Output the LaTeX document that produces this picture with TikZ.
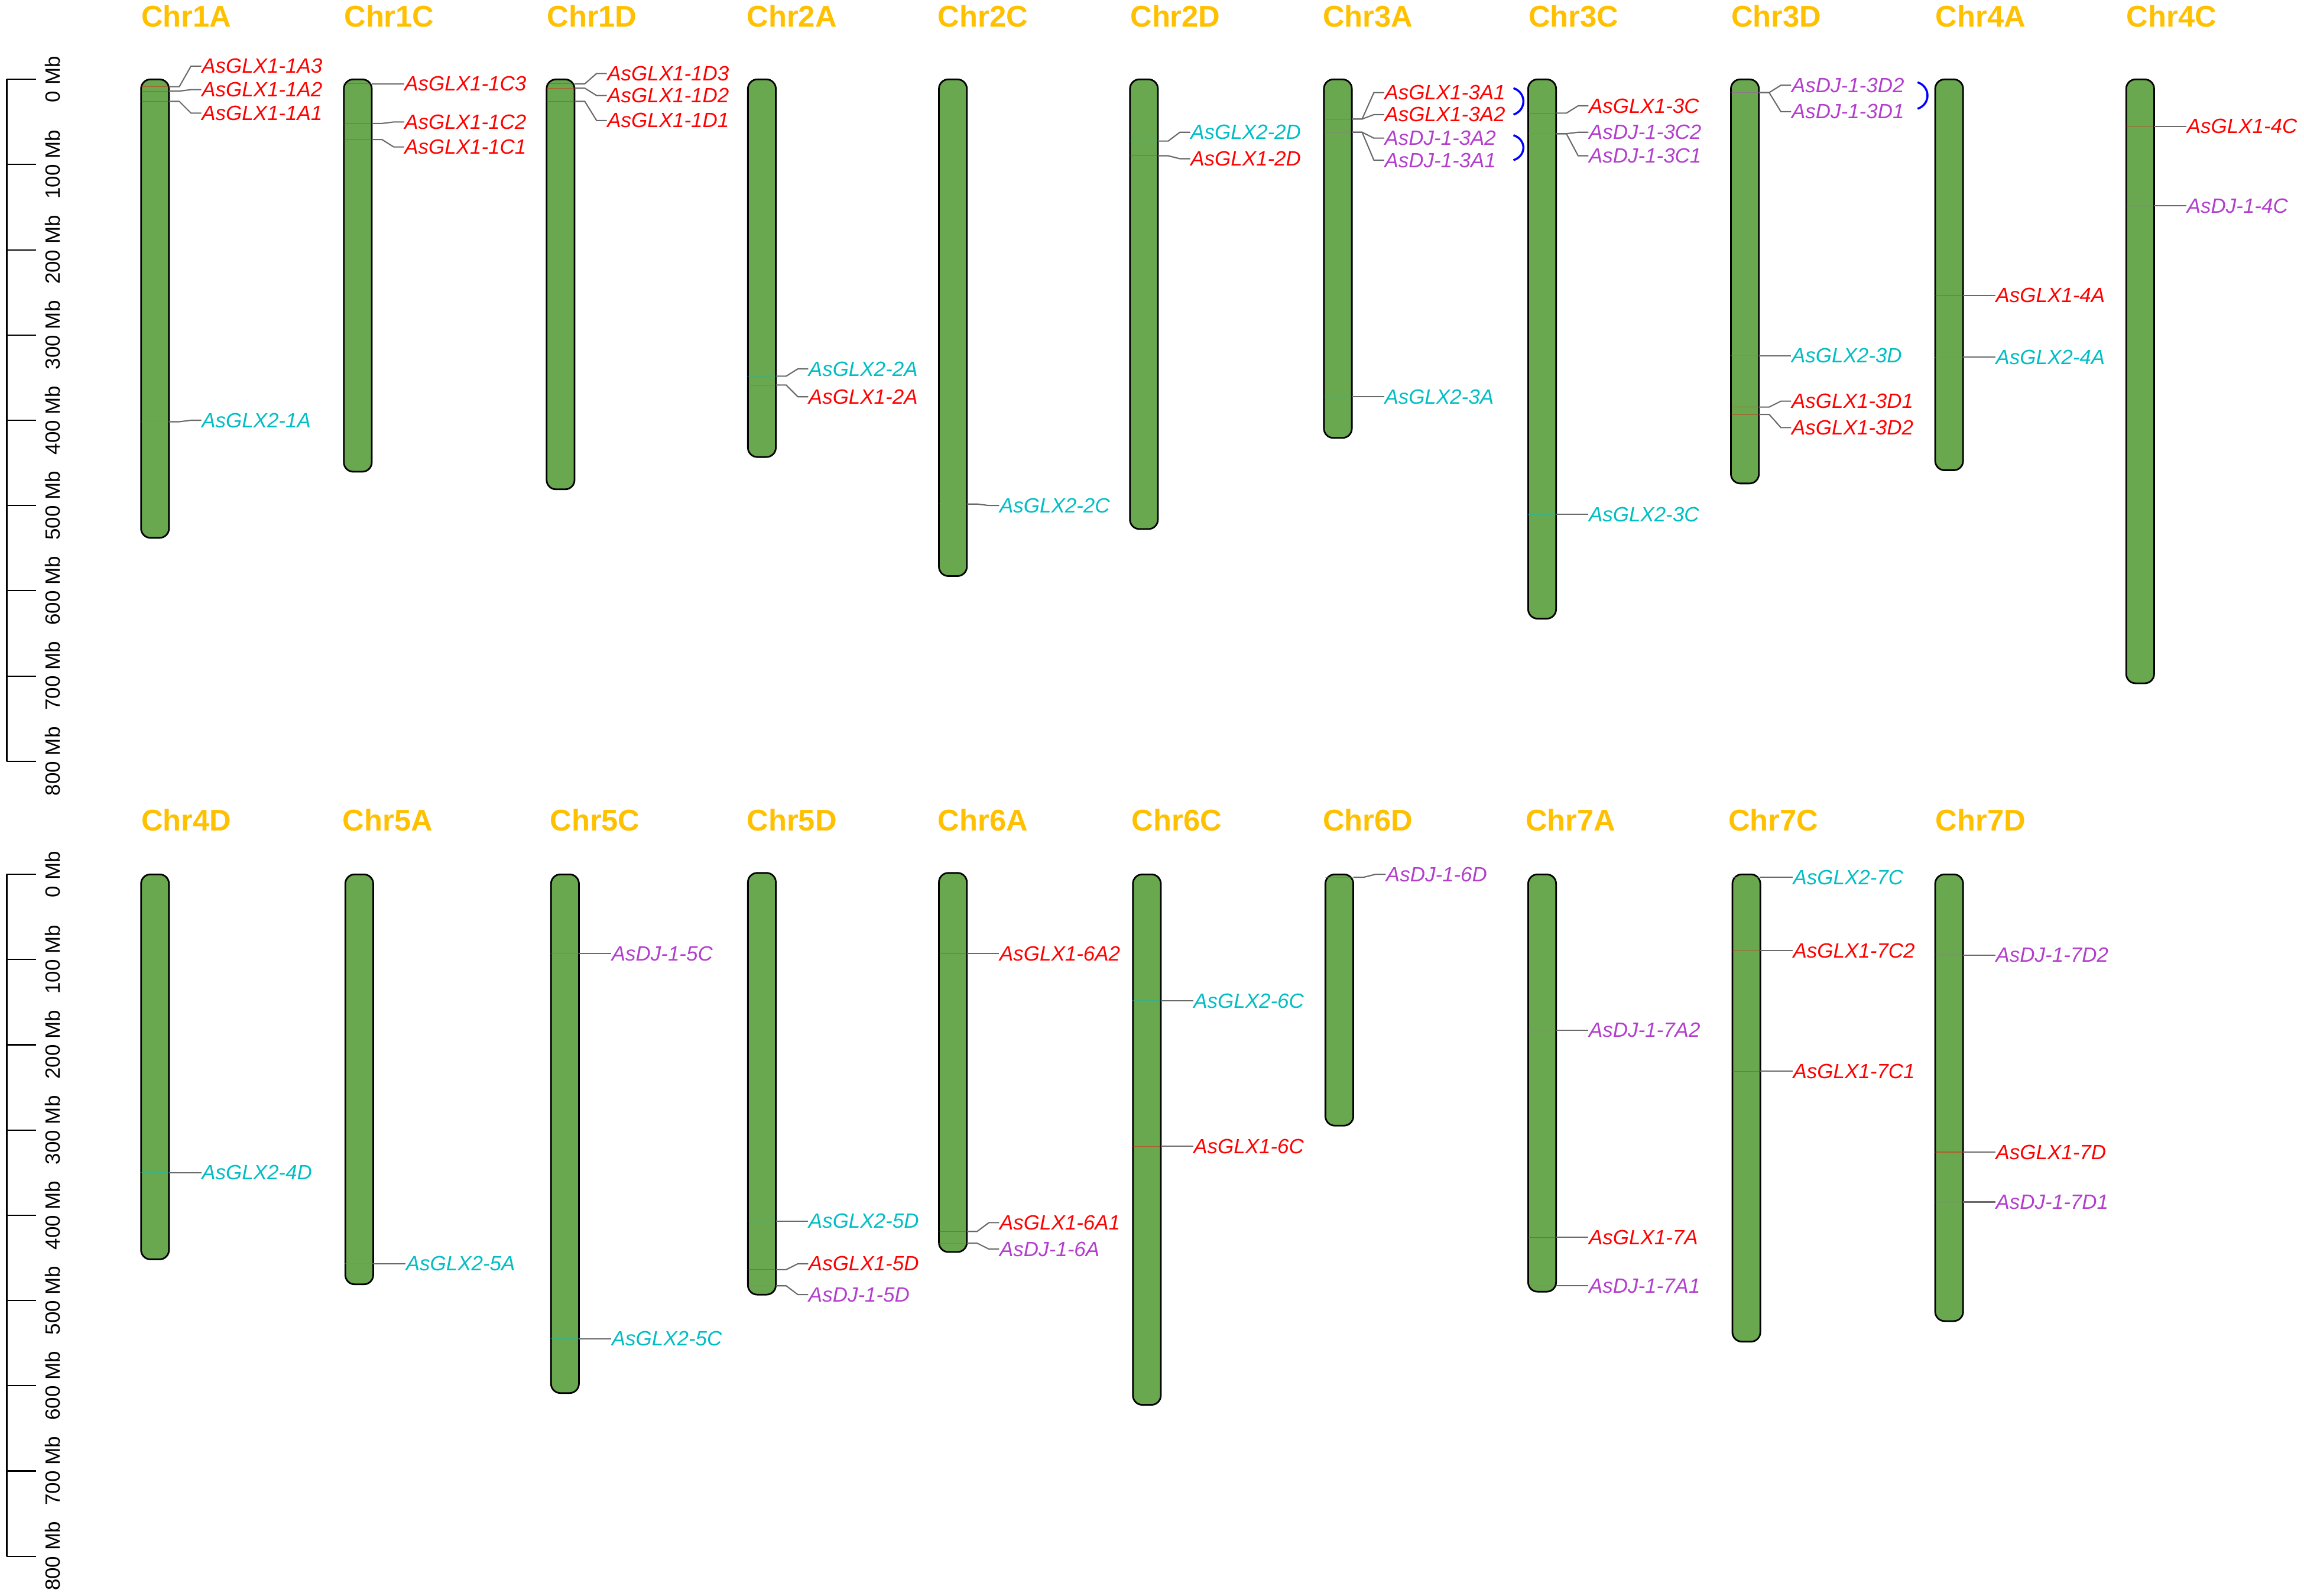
\documentclass[tikz,border=0pt]{standalone}
\usepackage{fontspec}
\setmainfont{Liberation Sans}
\usetikzlibrary{calc}
\definecolor{chromgreen}{RGB}{106,168,79}
\definecolor{chrgold}{RGB}{255,192,0}
\definecolor{glxred}{RGB}{255,0,0}
\definecolor{glxcyan}{RGB}{0,190,196}
\definecolor{djpurple}{RGB}{178,62,204}
\definecolor{linkgray}{RGB}{105,105,105}
\definecolor{dupblue}{RGB}{0,0,255}
\tikzset{chrom/.style={draw=black,fill=chromgreen,line width=0.8pt,rounded corners=0.16cm},
            chrname/.style={anchor=west,inner sep=0pt,text=chrgold,font=\fontsize{14.5}{16}\selectfont\bfseries},
            gene/.style={anchor=west,inner sep=0pt,font=\fontsize{10}{12}\selectfont\itshape},
            glxa/.style={gene,text=glxred},
            glxb/.style={gene,text=glxcyan},
            dj/.style={gene,text=djpurple},
            spot/.style={anchor=east,inner sep=0pt,minimum width=0.475cm,minimum height=0pt,draw=#1,draw opacity=0.45,line width=0.3pt},
            link/.style={draw=linkgray,line width=0.6pt,to path={-- ++(7,0) -- ($(\tikztotarget.west)+(-7,0)$) -- (\tikztotarget.west)}},
            dup/.style={draw=dupblue,line width=1pt},
            ruler/.style={rotate=90,inner sep=0pt,font=\fontsize{10}{12}\selectfont},
            }

\begin{document}
\begin{tikzpicture}[x=0.025cm,y=-0.025cm]
    \useasboundingbox (0,0) rectangle (1568,1086);

    \foreach \yo in {54,595}{
        \draw[line width=0.8pt] (4.5,\yo) -- (4.5,\yo+464);
        \foreach \k [evaluate=\k as \mb using int(100*\k)] in {0,...,8}{
            \draw[line width=0.6pt] (4.5,\yo+58*\k) -- (24.5,\yo+58*\k);
            \node[ruler] (ax\yo-\k) at (36,\yo+58*\k) {\mb\ Mb};
        }
    }

    \draw[chrom] (96,54) rectangle (115,366);
    \draw[chrom] (234,54) rectangle (253,321);
    \draw[chrom] (372,54) rectangle (391,333);
    \draw[chrom] (509,54) rectangle (528,311);
    \draw[chrom] (639,54) rectangle (658,392);
    \draw[chrom] (769,54) rectangle (788,360);
    \draw[chrom] (901,54) rectangle (920,298);
    \draw[chrom] (1040,54) rectangle (1059,421);
    \draw[chrom] (1178,54) rectangle (1197,329);
    \draw[chrom] (1317,54) rectangle (1336,320);
    \draw[chrom] (1447,54) rectangle (1466,465);

    \draw[chrom] (96,595) rectangle (115,857);
    \draw[chrom] (235,595) rectangle (254,874);
    \draw[chrom] (375,595) rectangle (394,948);
    \draw[chrom] (509,594) rectangle (528,881);
    \draw[chrom] (639,594) rectangle (658,852);
    \draw[chrom] (771,595) rectangle (790,956);
    \draw[chrom] (902,595) rectangle (921,766);
    \draw[chrom] (1040,595) rectangle (1059,879);
    \draw[chrom] (1179,595) rectangle (1198,913);
    \draw[chrom] (1317,595) rectangle (1336,899);

    \node[chrname] (t1A) at (96,11) {Chr1A};
    \node[chrname] (t1C) at (234,11) {Chr1C};
    \node[chrname] (t1D) at (372,11) {Chr1D};
    \node[chrname] (t2A) at (508,11) {Chr2A};
    \node[chrname] (t2C) at (638,11) {Chr2C};
    \node[chrname] (t2D) at (769,11) {Chr2D};
    \node[chrname] (t3A) at (900,11) {Chr3A};
    \node[chrname] (t3C) at (1040,11) {Chr3C};
    \node[chrname] (t3D) at (1178,11) {Chr3D};
    \node[chrname] (t4A) at (1317,11) {Chr4A};
    \node[chrname] (t4C) at (1447,11) {Chr4C};

    \node[chrname] (t4D) at (96,558) {Chr4D};
    \node[chrname] (t5A) at (233,558) {Chr5A};
    \node[chrname] (t5C) at (374,558) {Chr5C};
    \node[chrname] (t5D) at (508,558) {Chr5D};
    \node[chrname] (t6A) at (638,558) {Chr6A};
    \node[chrname] (t6C) at (770,558) {Chr6C};
    \node[chrname] (t6D) at (900,558) {Chr6D};
    \node[chrname] (t7A) at (1038,558) {Chr7A};
    \node[chrname] (t7C) at (1176,558) {Chr7C};
    \node[chrname] (t7D) at (1317,558) {Chr7D};

    \node[spot=glxred] (g1A3) at (115,59) {};
    \node[spot=glxred] (g1A2) at (115,62) {};
    \node[spot=glxred] (g1A1) at (115,69) {};
    \node[spot=glxcyan] (g1Ab) at (115,287) {};
    \node[glxa] (n1A3) at (137,45) {AsGLX1-1A3};
    \node[glxa] (n1A2) at (137,61) {AsGLX1-1A2};
    \node[glxa] (n1A1) at (137,77) {AsGLX1-1A1};
    \node[glxb] (n1Ab) at (137,286) {AsGLX2-1A};

    \node[spot=glxred] (g1C3) at (253,57) {};
    \node[spot=glxred] (g1C2) at (253,84) {};
    \node[spot=glxred] (g1C1) at (253,95) {};
    \node[glxa] (n1C3) at (275,57) {AsGLX1-1C3};
    \node[glxa] (n1C2) at (275,83) {AsGLX1-1C2};
    \node[glxa] (n1C1) at (275,100) {AsGLX1-1C1};

    \node[spot=glxred] (g1D3) at (391,57) {};
    \node[spot=glxred] (g1D2) at (391,60) {};
    \node[spot=glxred] (g1D1) at (391,69) {};
    \node[glxa] (n1D3) at (413,50) {AsGLX1-1D3};
    \node[glxa] (n1D2) at (413,65) {AsGLX1-1D2};
    \node[glxa] (n1D1) at (413,82) {AsGLX1-1D1};

    \node[spot=glxcyan] (g2Ab) at (528,256) {};
    \node[spot=glxred] (g2A) at (528,262) {};
    \node[glxb] (n2Ab) at (550,251) {AsGLX2-2A};
    \node[glxa] (n2A) at (550,270) {AsGLX1-2A};

    \node[spot=glxcyan] (g2Cb) at (658,343) {};
    \node[glxb] (n2Cb) at (680,344) {AsGLX2-2C};

    \node[spot=glxcyan] (g2Db) at (788,96) {};
    \node[spot=glxred] (g2D) at (788,106) {};
    \node[glxb] (n2Db) at (810,90) {AsGLX2-2D};
    \node[glxa] (n2D) at (810,108) {AsGLX1-2D};

    \node[spot=glxred] (g3A) at (920,81) {};
    \node[spot=djpurple] (g3Ad) at (920,90) {};
    \node[spot=glxcyan] (g3Ab) at (920,270) {};
    \node[glxa] (n3A1) at (942,63) {AsGLX1-3A1};
    \node[glxa] (n3A2) at (942,78) {AsGLX1-3A2};
    \node[dj] (n3Ad2) at (942,94) {AsDJ-1-3A2};
    \node[dj] (n3Ad1) at (942,109) {AsDJ-1-3A1};
    \node[glxb] (n3Ab) at (942,270) {AsGLX2-3A};

    \node[spot=glxred] (g3C) at (1059,77) {};
    \node[spot=djpurple] (g3Cd) at (1059,91) {};
    \node[spot=glxcyan] (g3Cb) at (1059,350) {};
    \node[glxa] (n3C) at (1081,72) {AsGLX1-3C};
    \node[dj] (n3Cd2) at (1081,90) {AsDJ-1-3C2};
    \node[dj] (n3Cd1) at (1081,106) {AsDJ-1-3C1};
    \node[glxb] (n3Cb) at (1081,350) {AsGLX2-3C};

    \node[spot=djpurple] (g3Dd) at (1197,63) {};
    \node[spot=glxcyan] (g3Db) at (1197,242) {};
    \node[spot=glxred] (g3D1) at (1197,277) {};
    \node[spot=glxred] (g3D2) at (1197,282) {};
    \node[dj] (n3Dd2) at (1219,58) {AsDJ-1-3D2};
    \node[dj] (n3Dd1) at (1219,76) {AsDJ-1-3D1};
    \node[glxb] (n3Db) at (1219,242) {AsGLX2-3D};
    \node[glxa] (n3D1) at (1219,273) {AsGLX1-3D1};
    \node[glxa] (n3D2) at (1219,291) {AsGLX1-3D2};

    \node[spot=glxred] (g4A) at (1336,201) {};
    \node[spot=glxcyan] (g4Ab) at (1336,243) {};
    \node[glxa] (n4A) at (1358,201) {AsGLX1-4A};
    \node[glxb] (n4Ab) at (1358,243) {AsGLX2-4A};

    \node[spot=glxred] (g4C) at (1466,86) {};
    \node[spot=djpurple] (g4Cd) at (1466,140) {};
    \node[glxa] (n4C) at (1488,86) {AsGLX1-4C};
    \node[dj] (n4Cd) at (1488,140) {AsDJ-1-4C};

    \node[spot=glxcyan] (g4Db) at (115,798) {};
    \node[glxb] (n4Db) at (137,798) {AsGLX2-4D};

    \node[spot=glxcyan] (g5Ab) at (254,860) {};
    \node[glxb] (n5Ab) at (276,860) {AsGLX2-5A};

    \node[spot=djpurple] (g5Cd) at (394,649) {};
    \node[spot=glxcyan] (g5Cb) at (394,911) {};
    \node[dj] (n5Cd) at (416,649) {AsDJ-1-5C};
    \node[glxb] (n5Cb) at (416,911) {AsGLX2-5C};

    \node[spot=glxcyan] (g5Db) at (528,831) {};
    \node[spot=glxred] (g5D) at (528,864) {};
    \node[spot=djpurple] (g5Dd) at (528,875) {};
    \node[glxb] (n5Db) at (550,831) {AsGLX2-5D};
    \node[glxa] (n5D) at (550,860) {AsGLX1-5D};
    \node[dj] (n5Dd) at (550,881) {AsDJ-1-5D};

    \node[spot=glxred] (g6A2) at (658,649) {};
    \node[spot=glxred] (g6A1) at (658,838) {};
    \node[spot=djpurple] (g6Ad) at (658,846) {};
    \node[glxa] (n6A2) at (680,649) {AsGLX1-6A2};
    \node[glxa] (n6A1) at (680,832) {AsGLX1-6A1};
    \node[dj] (n6Ad) at (680,850) {AsDJ-1-6A};

    \node[spot=glxcyan] (g6Cb) at (790,681) {};
    \node[spot=glxred] (g6C) at (790,780) {};
    \node[glxb] (n6Cb) at (812,681) {AsGLX2-6C};
    \node[glxa] (n6C) at (812,780) {AsGLX1-6C};

    \node[spot=djpurple] (g6Dd) at (921,597) {};
    \node[dj] (n6Dd) at (943,595) {AsDJ-1-6D};

    \node[spot=djpurple] (g7Ad2) at (1059,701) {};
    \node[spot=glxred] (g7A) at (1059,842) {};
    \node[spot=djpurple] (g7Ad1) at (1059,875) {};
    \node[dj] (n7Ad2) at (1081,701) {AsDJ-1-7A2};
    \node[glxa] (n7A) at (1081,842) {AsGLX1-7A};
    \node[dj] (n7Ad1) at (1081,875) {AsDJ-1-7A1};

    \node[spot=glxcyan] (g7Cb) at (1198,597) {};
    \node[spot=glxred] (g7C2) at (1198,647) {};
    \node[spot=glxred] (g7C1) at (1198,729) {};
    \node[glxb] (n7Cb) at (1220,597) {AsGLX2-7C};
    \node[glxa] (n7C2) at (1220,647) {AsGLX1-7C2};
    \node[glxa] (n7C1) at (1220,729) {AsGLX1-7C1};

    \node[spot=djpurple] (g7Dd2) at (1336,650) {};
    \node[spot=glxred] (g7D) at (1336,784) {};
    \node[spot=djpurple] (g7Dd1) at (1336,818) {};
    \node[dj] (n7Dd2) at (1358,650) {AsDJ-1-7D2};
    \node[glxa] (n7D) at (1358,784) {AsGLX1-7D};
    \node[dj] (n7Dd1) at (1358,818) {AsDJ-1-7D1};

    \path
    (g1A3.east) edge[link] (n1A3)
    (g1A2.east) edge[link] (n1A2)
    (g1A1.east) edge[link] (n1A1)
    (g1Ab.east) edge[link] (n1Ab)
    (g1C3.east) edge[link] (n1C3)
    (g1C2.east) edge[link] (n1C2)
    (g1C1.east) edge[link] (n1C1)
    (g1D3.east) edge[link] (n1D3)
    (g1D2.east) edge[link] (n1D2)
    (g1D1.east) edge[link] (n1D1)
    (g2Ab.east) edge[link] (n2Ab)
    (g2A.east) edge[link] (n2A)
    (g2Cb.east) edge[link] (n2Cb)
    (g2Db.east) edge[link] (n2Db)
    (g2D.east) edge[link] (n2D)
    (g3A.east) edge[link] (n3A1)
    (g3A.east) edge[link] (n3A2)
    (g3Ad.east) edge[link] (n3Ad2)
    (g3Ad.east) edge[link] (n3Ad1)
    (g3Ab.east) edge[link] (n3Ab)
    (g3C.east) edge[link] (n3C)
    (g3Cd.east) edge[link] (n3Cd2)
    (g3Cd.east) edge[link] (n3Cd1)
    (g3Cb.east) edge[link] (n3Cb)
    (g3Dd.east) edge[link] (n3Dd2)
    (g3Dd.east) edge[link] (n3Dd1)
    (g3Db.east) edge[link] (n3Db)
    (g3D1.east) edge[link] (n3D1)
    (g3D2.east) edge[link] (n3D2)
    (g4A.east) edge[link] (n4A)
    (g4Ab.east) edge[link] (n4Ab)
    (g4C.east) edge[link] (n4C)
    (g4Cd.east) edge[link] (n4Cd)
    (g4Db.east) edge[link] (n4Db)
    (g5Ab.east) edge[link] (n5Ab)
    (g5Cd.east) edge[link] (n5Cd)
    (g5Cb.east) edge[link] (n5Cb)
    (g5Db.east) edge[link] (n5Db)
    (g5D.east) edge[link] (n5D)
    (g5Dd.east) edge[link] (n5Dd)
    (g6A2.east) edge[link] (n6A2)
    (g6A1.east) edge[link] (n6A1)
    (g6Ad.east) edge[link] (n6Ad)
    (g6Cb.east) edge[link] (n6Cb)
    (g6C.east) edge[link] (n6C)
    (g6Dd.east) edge[link] (n6Dd)
    (g7Ad2.east) edge[link] (n7Ad2)
    (g7A.east) edge[link] (n7A)
    (g7Ad1.east) edge[link] (n7Ad1)
    (g7Cb.east) edge[link] (n7Cb)
    (g7C2.east) edge[link] (n7C2)
    (g7C1.east) edge[link] (n7C1)
    (g7Dd2.east) edge[link] (n7Dd2)
    (g7D.east) edge[link] (n7D)
    (g7Dd1.east) edge[link] (n7Dd1);

    \coordinate (b3Aa) at (1030,60);
    \coordinate (b3Ab) at (1030,78);
    \coordinate (b3Ac) at (1030,92);
    \coordinate (b3Ad) at (1030,109);
    \coordinate (b3Da) at (1305,56);
    \coordinate (b3Db) at (1305,74);
    \draw[dup] (b3Aa) .. controls +(9,3) and +(9,-3) .. (b3Ab);
    \draw[dup] (b3Ac) .. controls +(9,3) and +(9,-3) .. (b3Ad);
    \draw[dup] (b3Da) .. controls +(9,3) and +(9,-3) .. (b3Db);

\end{tikzpicture}
\end{document}
